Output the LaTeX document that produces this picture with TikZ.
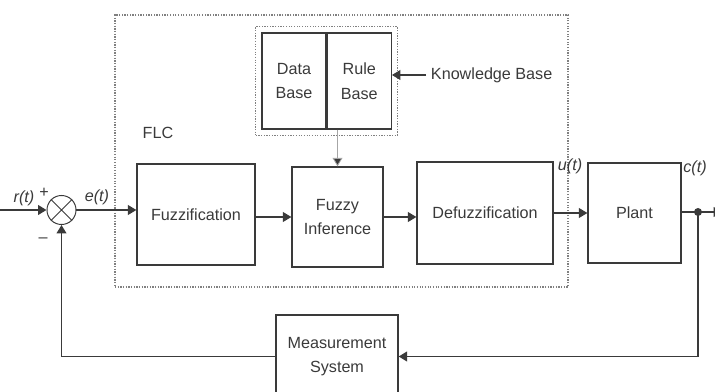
\documentclass[tikz,border=0pt]{standalone}
\usepackage{fontspec}
\setmainfont{Liberation Sans}
\usepackage{tikz}
\usetikzlibrary{arrows.meta,fit,positioning,calc,backgrounds}

\definecolor{ink}{HTML}{3A3A3A}
\tikzset{
  block/.style={draw=ink, line width=0.9pt, align=center, inner sep=0pt},
  flow/.style={draw=ink, line width=0.8pt, -{Triangle[length=6pt,width=7pt]}},
  wire/.style={draw=ink, line width=0.8pt},
  dotbox/.style={draw=gray, densely dotted, line width=0.9pt},
  sig/.style={font=\fontsize{11.5}{14}\selectfont\itshape, inner sep=0pt},
}

\begin{document}
\begin{tikzpicture}[x=0.025cm, y=-0.025cm, every node/.style={text=ink}, font=\fontsize{11.5}{17.5}\selectfont]
 \useasboundingbox (0,0) rectangle (715,392);

 \node[block, minimum width=2.95cm, minimum height=2.525cm](fuzz) at (196,214.5) {Fuzzification};
 \node[block, minimum width=2.275cm, minimum height=2.5cm](infer) at (337.5,217) {Fuzzy\\Inference};
 \node[block, minimum width=3.4cm, minimum height=2.55cm](defuzz) at (485,213) {Defuzzification};
 \node[block, minimum width=2.325cm, minimum height=2.5cm](plant) at (634.5,213) {Plant};
 \node[block, minimum width=3.05cm, minimum height=2.075cm](meas) at (337,356.5) {Measurement\\System};

 \node[block, minimum width=1.6cm, minimum height=2.4cm](dbase) at (294,81) {Data\\Base};
 \node[block, minimum width=1.6cm, minimum height=2.4cm, right=0pt of dbase](rbase) {Rule\\Base};
 \node[anchor=west](kb) at (426,75) {Knowledge Base};
 \node(flc) at (158,133) {FLC};

 \node[draw=ink, line width=0.7pt, circle, minimum size=0.725cm, inner sep=0pt](sum) at (61.5,210) {};
 \draw[ink, line width=0.6pt] (sum.north west) -- (sum.south east) (sum.north east) -- (sum.south west);

 \node[sig](r) at (24,198) {r(t)};
 \node[inner sep=0pt](plus) at (44,193) {+};
 \node[inner sep=0pt](minus) at (43,240) {--};
 \node[sig](e) at (97,197) {e(t)};
 \node[sig](u) at (570,166) {u(t)};
 \node[sig](c) at (695,168) {c(t)};

 \coordinate (in) at (0,210);
 \coordinate (tap) at (698,212);
 \coordinate (out) at (722,212);

 \begin{pgfonlayer}{background}
  \node[dotbox, minimum width=11.325cm, minimum height=6.8cm](flcbox) at (341.5,151) {};
  \node[dotbox, fit=(dbase) (rbase), inner sep=0.14cm](kbox) {};
 \end{pgfonlayer}

 \draw[flow] (in) -- (sum.west);
 \draw[flow] (sum.east) -- (sum.east -| fuzz.west);
 \draw[flow] (fuzz.east |- infer.west) -- (infer.west);
 \draw[flow] (infer.east) -- (infer.east -| defuzz.west);
 \draw[flow] (defuzz.east) -- (defuzz.east -| plant.west);
 \draw[wire] (plant.east |- tap) -- (tap);
 \draw[flow] (tap) -- (out);
 \fill[ink] (tap) circle (4);

 \draw[flow] (tap) |- (meas.east);
 \draw[flow] (meas.west) -| (sum.south);

 \draw[flow] (kb.west) -- (kb.west -| rbase.east);
 \draw[gray!70, line width=0.6pt, -{Triangle[length=6pt,width=7pt,fill=ink]}] (infer.north |- rbase.south) -- (infer.north);
\end{tikzpicture}
\end{document}
